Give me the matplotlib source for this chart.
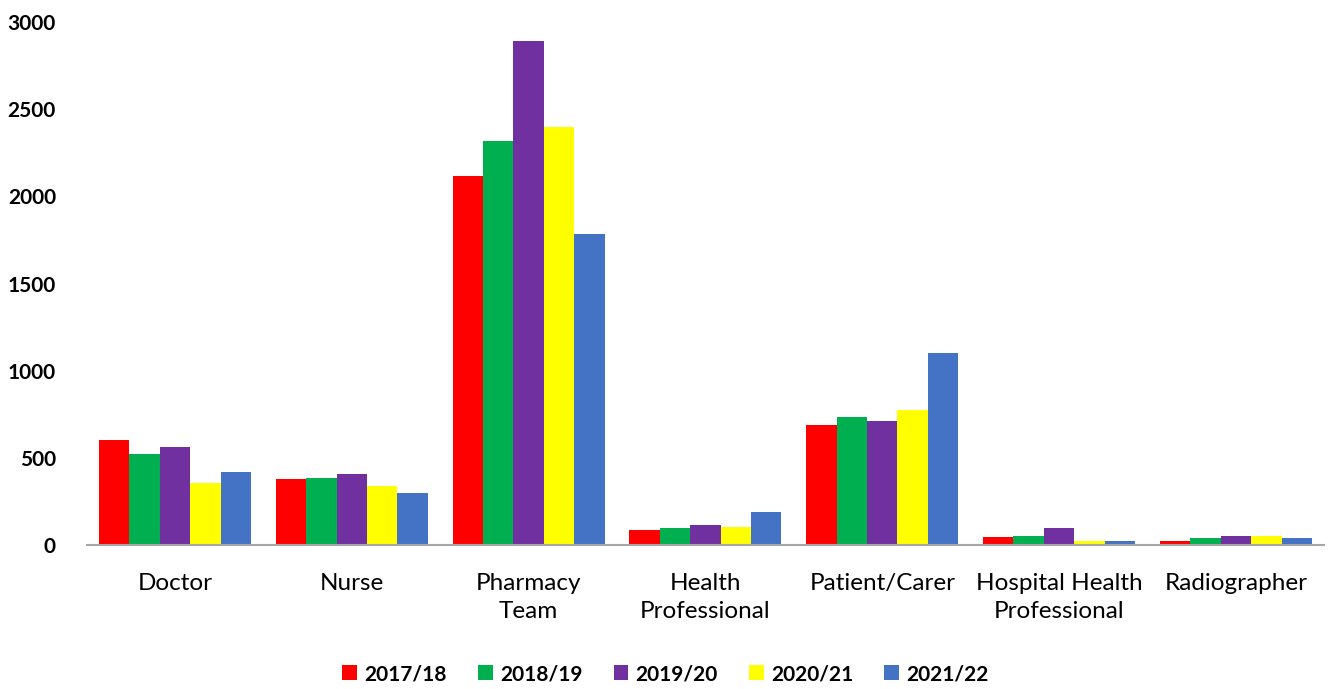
import numpy as np
import matplotlib.pyplot as plt
from matplotlib.patches import Patch

plt.rcParams['font.family'] = ['Lato', 'DejaVu Sans']

categories = ["Doctor", "Nurse", "Pharmacy\nTeam", "Health\nProfessional",
              "Patient/Carer", "Hospital Health\nProfessional", "Radiographer"]
years = ["2017/18", "2018/19", "2019/20", "2020/21", "2021/22"]
colors = ["#ff0000", "#00b050", "#7030a0", "#ffff00", "#4472c4"]

v2017 = [600, 380, 2115, 86, 690, 44, 25]
v2018 = [520, 385, 2320, 100, 732, 52, 38]
v2019 = [565, 410, 2890, 113, 711, 99, 52]
v2020 = [355, 340, 2400, 105, 774, 23, 52]
v2021 = [420, 300, 1785, 190, 1100, 22, 38]
series = [v2017, v2018, v2019, v2020, v2021]

fig = plt.figure(figsize=(13.31, 6.89), dpi=100)
ax = fig.add_axes([0.065, 0.209, 0.93, 0.759])

x = np.arange(len(categories))
w = 0.172
for i, (vals, c) in enumerate(zip(series, colors)):
    ax.bar(x + (i - 2) * w, vals, width=w, color=c, label=years[i])

ax.set_xlim(-0.5, 6.5)
ax.set_ylim(0, 3000)
ax.set_yticks(range(0, 3001, 500))
ax.set_xticks(x)
ax.set_xticklabels(categories, fontsize=17.5, linespacing=1.45)
for t in ax.get_yticklabels():
    t.set_fontweight('bold')
    t.set_fontsize(15)
ax.tick_params(axis='both', length=0)
ax.tick_params(axis='x', pad=20)
ax.tick_params(axis='y', pad=22)
for s in ['top', 'right', 'left']:
    ax.spines[s].set_visible(False)
ax.spines['bottom'].set_color('#a6a6a6')
ax.spines['bottom'].set_linewidth(1.5)

handles = [Patch(facecolor=c, label=y) for c, y in zip(colors, years)]
fig.legend(handles=handles, loc='lower center', bbox_to_anchor=(0.5, -0.02),
           ncol=5, frameon=False, prop={'weight': 'bold', 'size': 15},
           handlelength=0.7, handleheight=0.7, handletextpad=0.35, columnspacing=1.5)

fig.savefig("out.png", dpi=100)
